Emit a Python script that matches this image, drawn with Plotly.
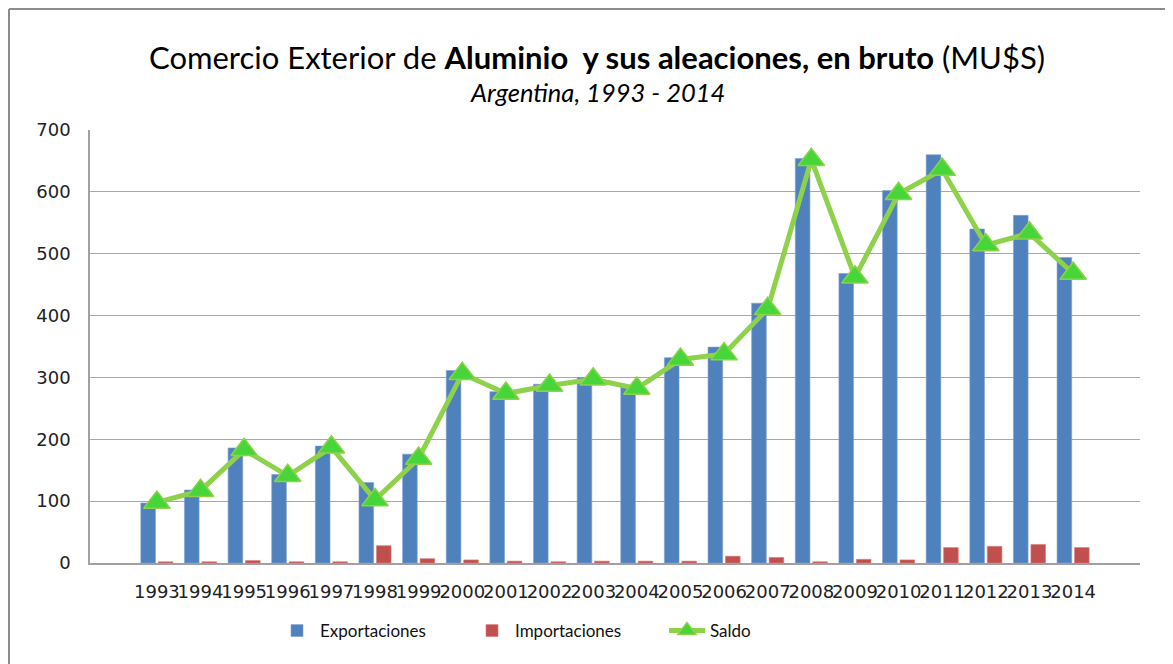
import plotly.graph_objects as go

years = [str(y) for y in range(1993, 2015)]
exportaciones = [97, 118, 186, 143, 189, 130, 176, 311, 277, 289, 300, 285, 332, 349, 420,
                 654, 468, 602, 660, 540, 562, 494]
importaciones = [2, 2, 4, 2, 2, 28, 7, 5, 3, 2, 3, 3, 3, 11, 9,
                 2, 6, 5, 25, 27, 30, 25]
saldo = [98, 117, 183, 141, 187, 102, 169, 306, 274, 287, 297, 282, 329, 338, 411,
         652, 462, 597, 636, 514, 533, 468]

# page offset of the figure (default body margin)
OFF = 8
W, H = 1173 - OFF, 664 - OFF
# plot area in page pixels
PL, PR, PT, PB = 90, 1140, 130, 563
L, R, T, B = PL - OFF, PR - OFF, PT - OFF, PB - OFF


def px(x):  # page x -> paper
    return (x - PL) / (PR - PL)


def py(y):  # page y -> paper
    return (PB - y) / (PB - PT)


fig = go.Figure()
fig.add_trace(go.Bar(x=years, y=exportaciones, name="Exportaciones",
                     marker=dict(color="#4F81BD", line=dict(width=0.6, color="#7FA3D3"))))
fig.add_trace(go.Bar(x=years, y=importaciones, name="Importaciones",
                     marker=dict(color="#C0504D", line=dict(width=0.6, color="#D88280"))))
fig.add_trace(go.Scatter(x=years, y=saldo, name="Saldo", mode="lines+markers",
                         line=dict(color="#8ED14B", width=5),
                         marker=dict(symbol="triangle-up", size=23, color="#46D63A",
                                     line=dict(color="#8ED14B", width=1.5))))

fig.update_layout(
    width=W, height=H,
    margin=dict(l=L, r=W - R, t=T, b=H - B, autoexpand=False),
    paper_bgcolor="white", plot_bgcolor="white",
    barmode="group", bargap=0.2, bargroupgap=0.16,
    showlegend=True,
    legend=dict(orientation="h", x=px(274), xanchor="left", y=py(631), yanchor="middle",
                font=dict(family="Lato", size=17, color="#111"),
                entrywidth=144, entrywidthmode="pixels", traceorder="normal",
                itemwidth=36),
    font=dict(family="DejaVu Sans", size=18, color="#222"),
    xaxis=dict(type="category", showgrid=False, showline=True, linecolor="#A0A0A0",
               linewidth=1.5, tickfont=dict(family="DejaVu Sans", size=18, color="#222"),
               ticks="", tickangle=0, automargin=False, ticklabelstandoff=12),
    yaxis=dict(range=[0, 700], dtick=100, showgrid=True, gridcolor="#A8A8A8", gridwidth=1.2,
               showline=True, linecolor="#A0A0A0", linewidth=1.5, zeroline=False,
               automargin=False,
               tickfont=dict(family="DejaVu Sans", size=18, color="#222"), ticks="",
               ticklabelstandoff=14),
    annotations=[
        dict(text="Comercio Exterior de <b>Aluminio  y sus aleaciones, en bruto</b> (MU$S)",
             x=px(597), y=py(57), xref="paper", yref="paper", showarrow=False,
             xanchor="center", yanchor="middle",
             font=dict(family="Lato", size=31, color="#000")),
        dict(text="<i>Argentina, 1993 - 2014</i>",
             x=px(597), y=py(92), xref="paper", yref="paper", showarrow=False,
             xanchor="center", yanchor="middle",
             font=dict(family="Lato", size=25.5, color="#000")),
    ],
    shapes=[
        dict(type="line", xref="paper", yref="paper", x0=px(OFF + 1), x1=px(1173), y0=py(OFF + 1), y1=py(OFF + 1),
             line=dict(color="#8C8C8C", width=2)),
        dict(type="line", xref="paper", yref="paper", x0=px(OFF + 1), x1=px(OFF + 1), y0=py(OFF + 1), y1=py(664),
             line=dict(color="#8C8C8C", width=2)),
    ],
)

fig.write_html("out.html")
